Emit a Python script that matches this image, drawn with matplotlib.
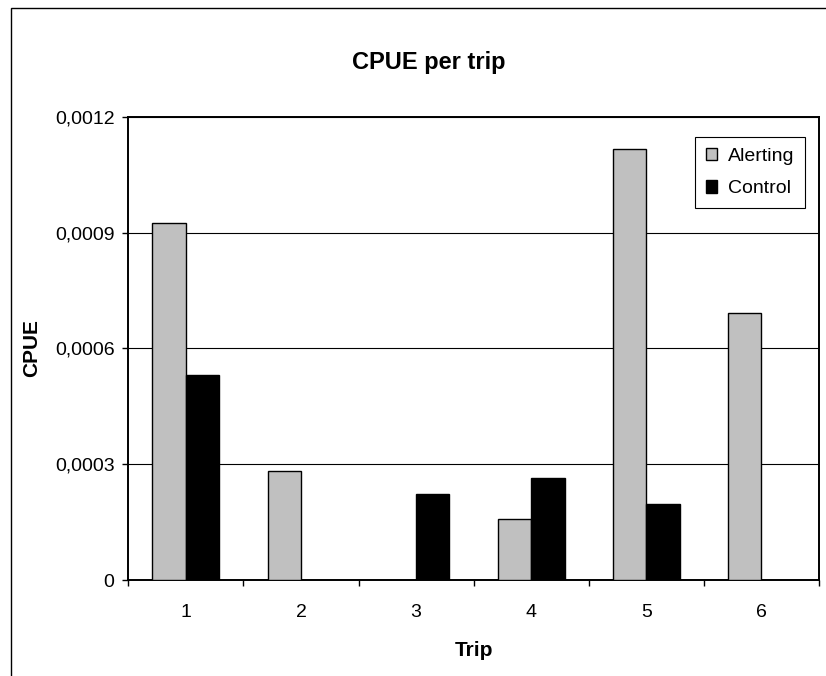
import numpy as np
import matplotlib
matplotlib.use("Agg")
import matplotlib.pyplot as plt
from matplotlib.patches import Rectangle

plt.rcParams['font.family'] = ['Liberation Sans', 'DejaVu Sans']

# CPUE por viaje (nan = sin barra)
trips = [1, 2, 3, 4, 5, 6]
alerting = [0.000924, 0.000282, np.nan, 0.000159, 0.001116, 0.000691]
control = [0.000530, np.nan, 0.000223, 0.000263, 0.000198, np.nan]
y_ticks = [0, 0.0003, 0.0006, 0.0009, 0.0012]
y_tick_labels = ["0", "0,0003", "0,0006", "0,0009", "0,0012"]

fig = plt.figure(figsize=(8.26, 6.76), dpi=100)

# marco del gráfico
fig.patches.append(Rectangle((11 / 826, -0.1), 1.2, 1 - 8 / 676 + 0.1,
                             transform=fig.transFigure, fill=False,
                             edgecolor="black", linewidth=1.0))

ax = fig.add_axes([0.1553, 0.142, 0.8362, 0.6854])

x = np.array(trips)
w = 0.29
ax.bar(x - w / 2, alerting, w, color="#c0c0c0", edgecolor="black",
       linewidth=1.0, label="Alerting", zorder=3)
ax.bar(x + w / 2, control, w, color="black", edgecolor="black",
       linewidth=1.0, label="Control", zorder=3)

ax.set_xlim(0.5, 6.5)
ax.set_ylim(0, 0.0012)
ax.set_yticks(y_ticks)
ax.set_yticklabels(y_tick_labels)
ax.set_xticks(x)
ax.set_xticklabels([str(t) for t in trips])
ax.set_xticks(np.arange(0.5, 7, 1), minor=True)

ax.tick_params(axis="x", which="major", length=0, pad=17, labelsize=14)
ax.tick_params(axis="x", which="minor", length=4, width=1, direction="out")
ax.tick_params(axis="y", length=4, width=1, direction="out", pad=6, labelsize=14)

ax.yaxis.grid(True, color="black", linewidth=0.8, zorder=0)
ax.set_axisbelow(True)
for s in ax.spines.values():
    s.set_linewidth(1.4)
    s.set_color("black")

ax.set_xlabel("Trip", fontsize=15, fontweight="bold", labelpad=15)
ax.set_ylabel("CPUE", fontsize=15, fontweight="bold", labelpad=10)
fig.text(429 / 826, 1 - 63 / 676, "CPUE per trip", ha="center", va="center",
         fontsize=17, fontweight="bold")

leg = ax.legend(loc="upper right", bbox_to_anchor=(0.98, 0.956),
                fontsize=14, handlelength=0.6, handleheight=0.6,
                handletextpad=0.55, labelspacing=0.8, borderpad=0.55,
                fancybox=False, framealpha=1, edgecolor="black",
                borderaxespad=0)
leg.get_frame().set_linewidth(0.8)

fig.savefig("out.png", dpi=100)
